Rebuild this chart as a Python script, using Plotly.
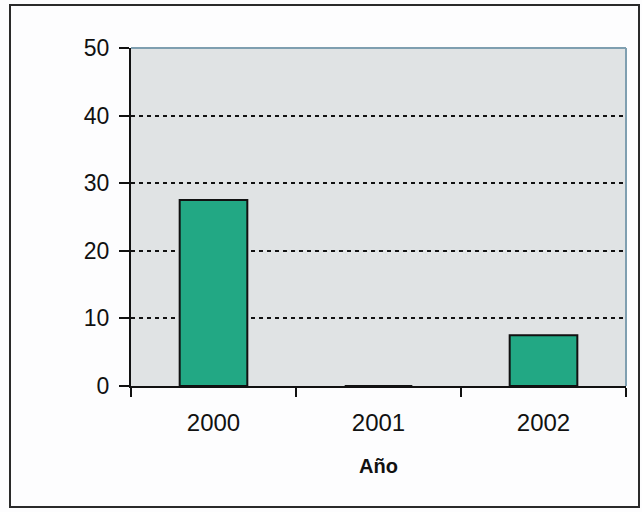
import plotly.graph_objects as go

# Yearly values shown as bars
years = ["2000", "2001", "2002"]
values = [27.5, 0, 7.5]
y_ticks = [0, 10, 20, 30, 40, 50]

W, H = 642, 512
L, R, T, B = 131, 16, 48, 126
pw, ph = W - L - R, H - T - B


def px_x(p):
    return (p - L) / pw


def px_y(p):
    return (H - B - p) / ph


fig = go.Figure(
    go.Bar(
        x=years,
        y=values,
        width=0.41,
        marker=dict(color="#22a884", line=dict(color="#111111", width=2)),
    )
)

fig.update_layout(
    width=W,
    height=H,
    margin=dict(l=L, r=R, t=T, b=B),
    paper_bgcolor="#fdfdfe",
    plot_bgcolor="#e0e3e4",
    showlegend=False,
    font=dict(family="Liberation Sans, Arial, sans-serif", color="#111111"),
    shapes=[
        # light frame on top and right of the plot area
        dict(type="line", xref="paper", yref="paper", x0=0, x1=1, y0=1, y1=1,
             line=dict(color="#7f9fb0", width=2), layer="above"),
        dict(type="line", xref="paper", yref="paper", x0=1, x1=1, y0=0, y1=1,
             line=dict(color="#7f9fb0", width=2), layer="above"),
        # outer chart border
        dict(type="rect", xref="paper", yref="paper",
             x0=px_x(10), x1=px_x(639), y0=px_y(507), y1=px_y(5),
             line=dict(color="#2a2a2a", width=2)),
    ],
)

fig.update_xaxes(
    type="category",
    tickson="boundaries",
    ticks="outside",
    ticklen=9,
    tickwidth=2,
    tickcolor="#111111",
    showline=True,
    linecolor="#111111",
    linewidth=2,
    showgrid=False,
    tickfont=dict(size=24),
    ticklabelstandoff=14,
    title=dict(text="<b>Año</b>", font=dict(size=20), standoff=24),
)

fig.update_yaxes(
    range=[0, 50],
    tickvals=y_ticks,
    ticks="outside",
    ticklen=10,
    tickwidth=2,
    tickcolor="#111111",
    showline=True,
    linecolor="#111111",
    linewidth=2,
    showgrid=True,
    gridcolor="#111111",
    gridwidth=2,
    griddash="4px,4px",
    zeroline=False,
    tickfont=dict(size=23),
    ticklabelstandoff=5,
)

fig.write_html("out.html")
